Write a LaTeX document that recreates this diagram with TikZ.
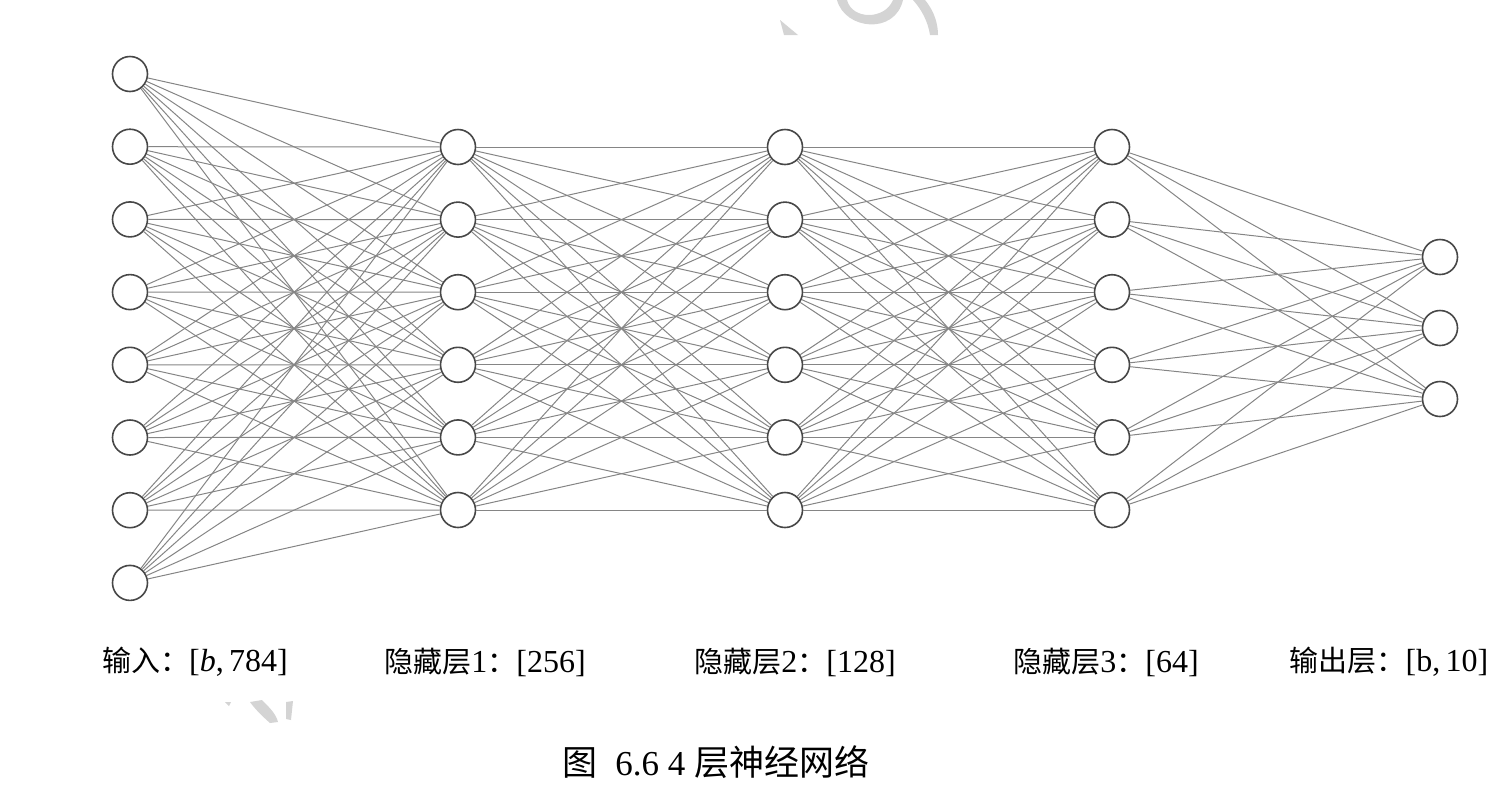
\documentclass[tikz,border=0pt]{standalone}
\usepackage{fontspec}
\setmainfont{Liberation Serif}
\newfontfamily\cjk{Noto Sans CJK SC}
\newcommand{\lat}[1]{{\fontsize{32}{36}\selectfont #1}}
\begin{document}
\begin{tikzpicture}[x=1pt,y=-1pt,
  neuron/.style={circle,draw=black!72,line width=1.6pt,fill=white,minimum size=35pt,inner sep=0pt},
  conn/.style={draw=black!48,line width=1pt},
  lbl/.style={font=\fontsize{29}{34}\selectfont,inner sep=0pt,anchor=center},
  wm/.style={fill=black!17,draw=none}]
\useasboundingbox (0,0) rectangle (1509,788);
% watermark fragments
\fill[wm] (780,20) -- (798,35) -- (784,35) -- cycle;
\fill[wm] (837,0) .. controls (845,30) and (895,35) .. (903,0) -- (893,0) .. controls (885,20) and (852,20) .. (847,0) -- cycle;
\fill[wm] (913,0) -- (925,0) .. controls (935,12) and (938,25) .. (938,35) -- (930,35) .. controls (928,22) and (922,10) .. (913,0) -- cycle;
\fill[wm] (225,702) -- (231,702) -- (229,706) -- cycle;
\fill[wm] (250,702) -- (262,700) .. controls (270,708) and (276,714) .. (278,722) -- (270,723) .. controls (262,716) and (255,709) .. (250,702) -- cycle;
\fill[wm] (286,702) -- (293,701) -- (291,720) -- (286,719) -- cycle;
% layer 1
\foreach \i in {1,...,8} \node[neuron] (a\i) at (130,{74+(\i-1)*72.7}) {};
\foreach \l/\x in {b/458,c/785,d/1112} \foreach \i in {1,...,6} \node[neuron] (\l\i) at (\x,{147+(\i-1)*72.6}) {};
\foreach \i/\y in {1/257,2/328,3/399} \node[neuron] (e\i) at (1440,\y) {};
% connections
\foreach \i in {1,...,8} \foreach \j in {1,...,6} \draw[conn] (a\i) -- (b\j);
\foreach \i in {1,...,6} \foreach \j in {1,...,6} \draw[conn] (b\i) -- (c\j);
\foreach \i in {1,...,6} \foreach \j in {1,...,6} \draw[conn] (c\i) -- (d\j);
\foreach \i in {1,...,6} \foreach \j in {1,2,3} \draw[conn] (d\i) -- (e\j);
% labels
\node[lbl] (l1) at (195,662) {{\cjk 输入：}\lat{[\textit{b},\,784]}};
\node[lbl] (l2) at (485,662) {{\cjk 隐藏层}\lat{1}{\cjk ：}\lat{[256]}};
\node[lbl] (l3) at (795,662) {{\cjk 隐藏层}\lat{2}{\cjk ：}\lat{[128]}};
\node[lbl] (l4) at (1106,662) {{\cjk 隐藏层}\lat{3}{\cjk ：}\lat{[64]}};
\node[lbl] (l5) at (1389,662) {{\cjk 输出层：}\lat{[b,\,10]}};
\node[lbl,font=\fontsize{35}{40}\selectfont] (cap) at (716,762) {{\cjk 图}\ \ 6.6 4 {\cjk 层神经网络}};
\end{tikzpicture}
\end{document}
